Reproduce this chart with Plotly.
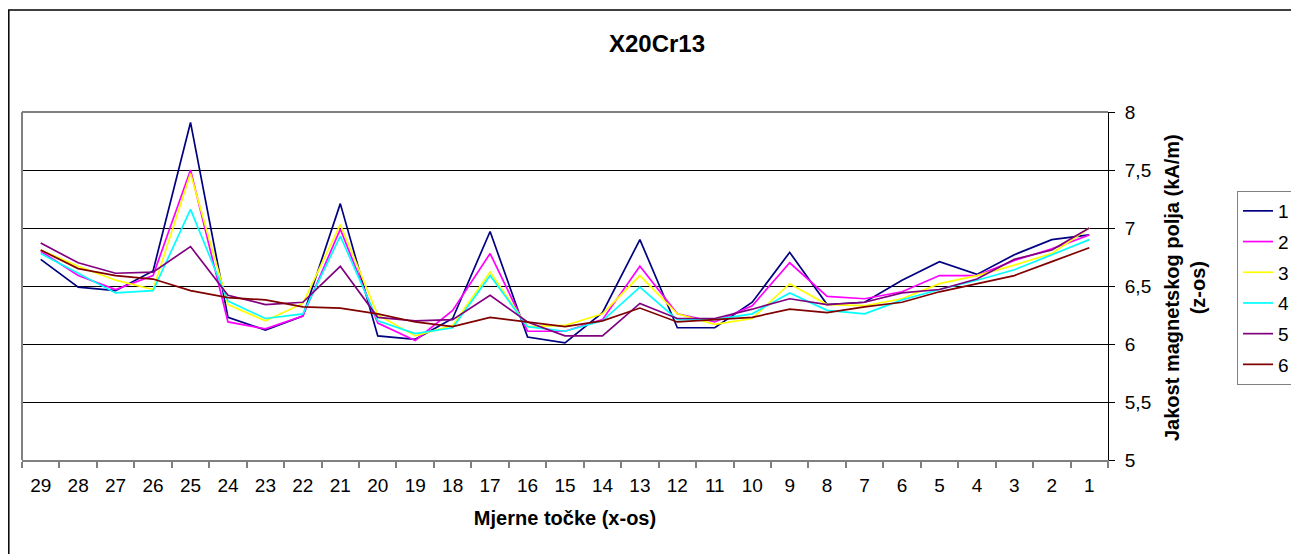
import plotly.graph_objects as go

categories = ["29", "28", "27", "26", "25", "24", "23", "22", "21", "20", "19", "18", "17", "16", "15",
              "14", "13", "12", "11", "10", "9", "8", "7", "6", "5", "4", "3", "2", "1"]

s1 = [6.73, 6.49, 6.46, 6.63, 7.91, 6.23, 6.12, 6.24, 7.21, 6.07, 6.04, 6.22, 6.97, 6.06, 6.01,
      6.27, 6.90, 6.14, 6.14, 6.36, 6.79, 6.34, 6.36, 6.55, 6.71, 6.60, 6.77, 6.90, 6.94]
s2 = [6.80, 6.59, 6.47, 6.59, 7.50, 6.19, 6.13, 6.24, 6.99, 6.18, 6.03, 6.29, 6.78, 6.11, 6.11,
      6.21, 6.67, 6.26, 6.19, 6.33, 6.70, 6.41, 6.39, 6.45, 6.59, 6.59, 6.72, 6.82, 6.94]
s3 = [6.81, 6.67, 6.55, 6.47, 7.47, 6.34, 6.20, 6.35, 7.03, 6.25, 6.07, 6.16, 6.62, 6.15, 6.16,
      6.26, 6.59, 6.26, 6.17, 6.22, 6.52, 6.34, 6.33, 6.39, 6.52, 6.59, 6.68, 6.78, 7.00]
s4 = [6.78, 6.61, 6.44, 6.46, 7.16, 6.37, 6.22, 6.26, 6.93, 6.20, 6.09, 6.14, 6.59, 6.15, 6.11,
      6.20, 6.49, 6.21, 6.21, 6.26, 6.44, 6.29, 6.26, 6.38, 6.47, 6.55, 6.64, 6.77, 6.90]
s5 = [6.87, 6.70, 6.61, 6.62, 6.84, 6.42, 6.34, 6.36, 6.67, 6.23, 6.20, 6.21, 6.42, 6.19, 6.07,
      6.07, 6.35, 6.22, 6.22, 6.30, 6.39, 6.34, 6.36, 6.44, 6.47, 6.56, 6.73, 6.81, 7.00]
s6 = [6.81, 6.65, 6.59, 6.56, 6.46, 6.40, 6.38, 6.32, 6.31, 6.26, 6.19, 6.15, 6.23, 6.19, 6.15,
      6.20, 6.31, 6.19, 6.21, 6.23, 6.30, 6.27, 6.32, 6.36, 6.45, 6.52, 6.59, 6.71, 6.83]

series_names = ["1", "2", "3", "4", "5", "6"]
series_values = [s1, s2, s3, s4, s5, s6]
colors = ["#000080", "#FF00FF", "#FFFF00", "#00FFFF", "#800080", "#800000"]

y_ticks = [5, 5.5, 6, 6.5, 7, 7.5, 8]

FONT = "Liberation Sans, Arial, sans-serif"

fig = go.Figure()
for name, vals, col in zip(series_names, series_values, colors):
    fig.add_trace(go.Scatter(x=categories, y=vals, mode="lines", name=name,
                             legendgroup=name,
                             line=dict(color=col, width=1.7)))

# the page body adds an 8px offset; work in page pixels and convert
OFF = 8
W, H = 1299 - OFF, 554 - OFF
L, R, T, B = 22 - OFF, 1108 - OFF, 112 - OFF, 460 - OFF

def px_x(x):
    return (x - OFF - L) / (R - L)

def px_y(y):
    return (B - (y - OFF)) / (B - T)

fig.update_layout(
    width=W, height=H,
    margin=dict(l=L, r=W - R, t=T, b=H - B, autoexpand=False),
    paper_bgcolor="white", plot_bgcolor="white",
    separators=",.",
    font=dict(family=FONT, size=19, color="black"),
    title=dict(text="<b>X20Cr13</b>", x=(657 - OFF) / W, xref="container",
               y=1 - (44 - OFF) / H, yref="container", xanchor="center", yanchor="middle",
               font=dict(family=FONT, size=24, color="black")),
    showlegend=True,
    legend=dict(x=px_x(1237), y=px_y(191), xanchor="left", yanchor="top",
                bordercolor="#808080", borderwidth=1, bgcolor="white",
                font=dict(family=FONT, size=19, color="black"),
                tracegroupgap=3, itemwidth=30),
    xaxis=dict(type="category", range=[-0.5, len(categories) - 0.5],
               tickson="boundaries", ticks="outside", ticklen=6,
               tickcolor="#808080", tickwidth=1.5,
               showline=True, linecolor="#808080", linewidth=2,
               showgrid=False, zeroline=False,
               tickfont=dict(family=FONT, size=19, color="black"),
               ticklabelstandoff=7,
               title=dict(text="<b>Mjerne točke (x-os)</b>", standoff=16,
                          font=dict(family=FONT, size=20, color="black"))),
    yaxis=dict(side="right", range=[5, 8], tickvals=y_ticks, ticks="outside", ticklen=6,
               tickcolor="black", showline=True, linecolor="black", linewidth=1,
               showgrid=True, gridcolor="black", gridwidth=1, zeroline=False,
               tickfont=dict(family=FONT, size=19, color="black"),
               ticklabelstandoff=6),
    annotations=[dict(text="<b>Jakost magnetskog polja (kA/m)<br>(z-os)</b>",
                      xref="paper", yref="paper", x=px_x(1185), y=px_y(288),
                      xanchor="center", yanchor="middle", textangle=-90, showarrow=False,
                      font=dict(family=FONT, size=20, color="black"))],
    shapes=[
        dict(type="line", xref="paper", yref="paper", x0=0, x1=1, y0=1, y1=1,
             line=dict(color="#808080", width=2)),
        dict(type="line", xref="paper", yref="paper", x0=0, x1=0, y0=0, y1=1,
             line=dict(color="#808080", width=2)),
        dict(type="rect", xref="paper", yref="paper", x0=px_x(8.8), x1=px_x(1330),
             y0=px_y(600), y1=px_y(10), line=dict(color="black", width=1.5),
             fillcolor="rgba(0,0,0,0)", layer="below"),
    ],
)

fig.write_html("out.html")
